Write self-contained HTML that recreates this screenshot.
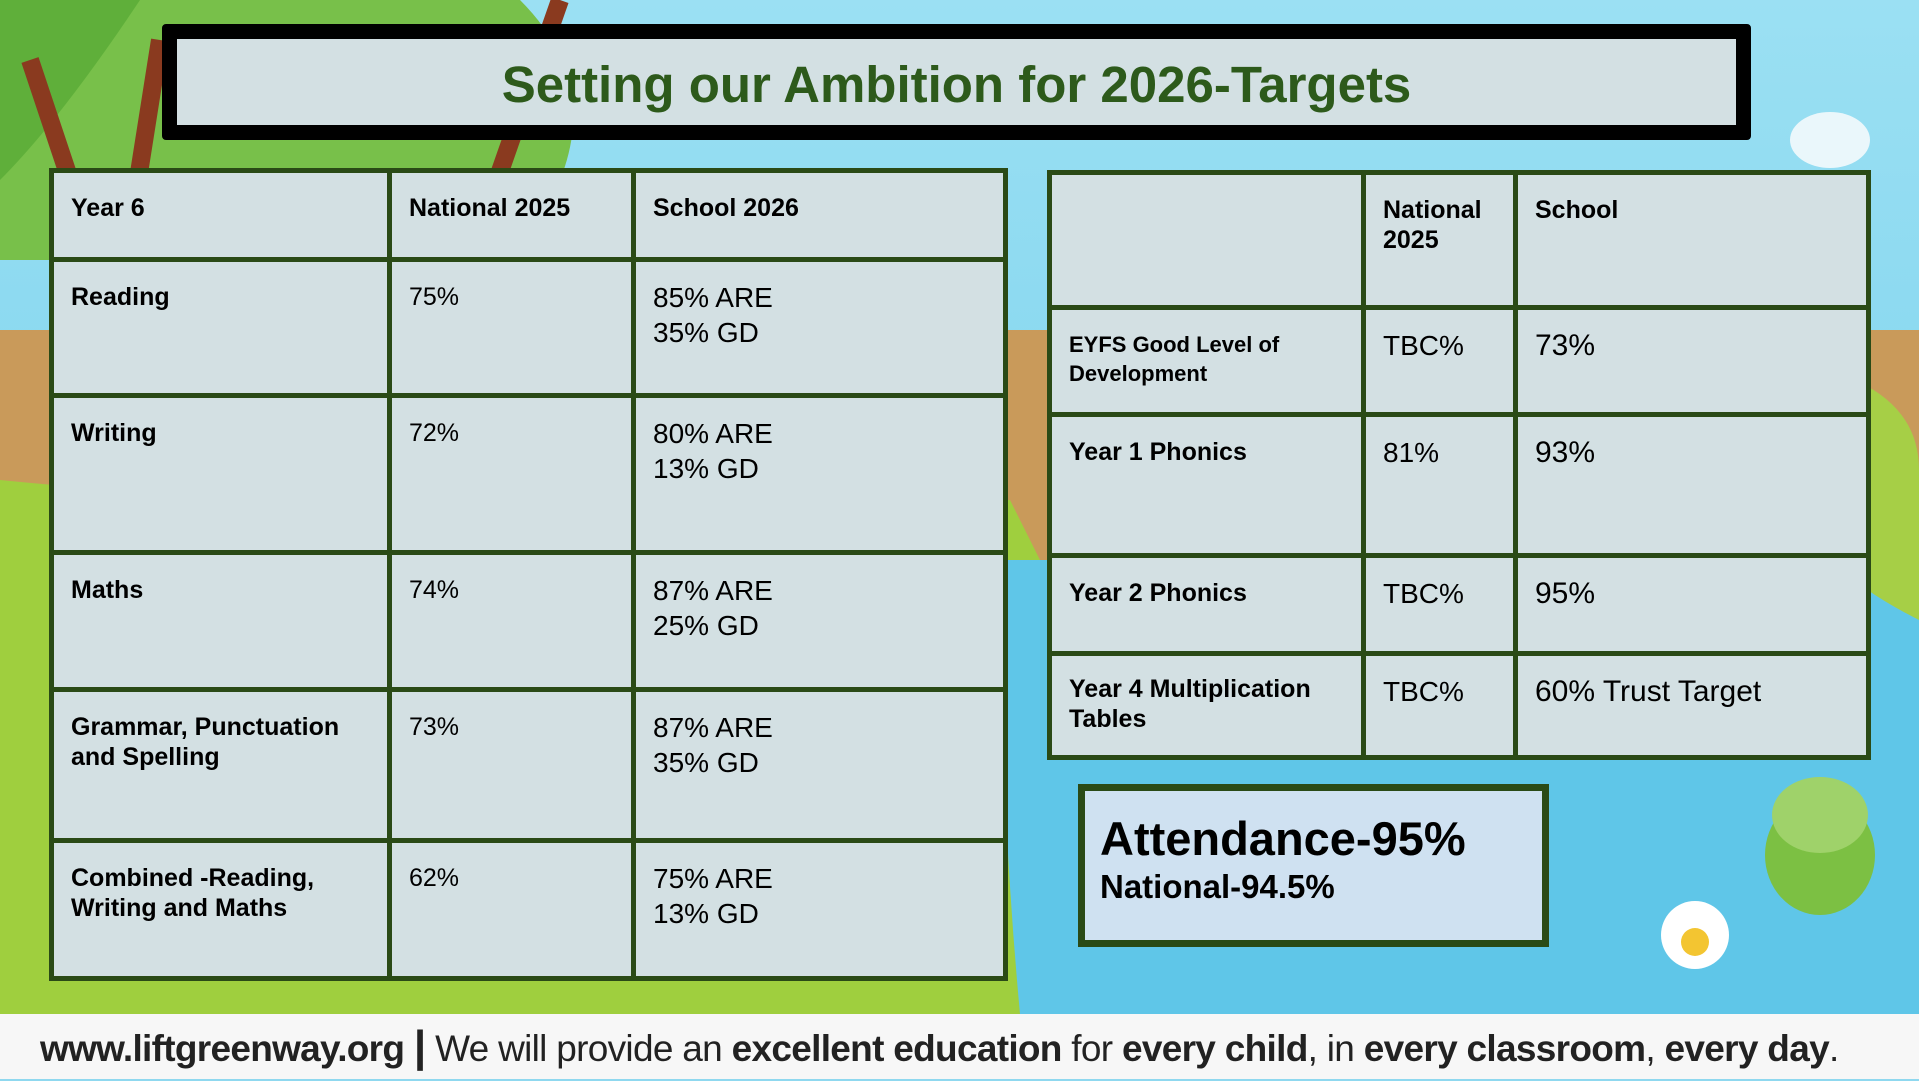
<!DOCTYPE html>
<html><head><meta charset="utf-8">
<style>
*{margin:0;padding:0;box-sizing:border-box}
body{width:1919px;height:1079px;overflow:hidden;position:relative;font-family:"Liberation Sans",sans-serif;background:#8fd8ef}
#bg{position:absolute;left:0;top:0}
.title{position:absolute;left:162px;top:24px;width:1589px;height:116px;background:#d3e0e3;border:15px solid #000;border-radius:4px;display:flex;align-items:center;justify-content:center;font-weight:bold;font-size:51px;color:#2d5a1b;padding-top:4px}
table{position:absolute;border-collapse:collapse;background:#d3e0e3}
td{border:5px solid #2a4a16;vertical-align:top;padding:0 0 0 17px;color:#000}
td.h{font-weight:bold;font-size:25px;line-height:30px;padding-top:20px}
td.v{font-size:28px;line-height:35px;padding-top:18px}
td.n{font-size:25px;line-height:35px;padding-top:18px}
.att{position:absolute;left:1078px;top:784px;width:471px;height:163px;background:#cfe1f1;border:7px solid #2a4a16;padding:22px 0 0 15px}
.att .a{font-weight:bold;font-size:47px;line-height:52px}
.att .b{font-weight:bold;font-size:33px;line-height:44px}
.foot{position:absolute;left:0;top:1014px;width:1919px;height:65px;background:#f7f7f7;font-size:37px;line-height:65px;padding-left:40px;color:#222;white-space:nowrap;letter-spacing:-0.7px}
.foot b{font-weight:bold}
</style></head><body>
<svg id="bg" width="1919" height="1079">
<defs><linearGradient id="sky" x1="0" y1="0" x2="0" y2="1"><stop offset="0" stop-color="#9be0f3"/><stop offset="1" stop-color="#6ccbeb"/></linearGradient></defs>
<rect width="1919" height="1079" fill="url(#sky)"/>
<path d="M0 0H520Q600 80 560 180L520 260L0 260Z" fill="#78c04a"/>
<path d="M0 0H140Q60 120 0 180Z" fill="#5faf3a"/>
<path d="M30 60L90 240M160 40L130 230M560 0L490 200" stroke="#8a3a1f" stroke-width="18"/>
<path d="M0 330H1919V520H1500Q1200 520 1050 600L0 600Z" fill="#c99a5a"/>
<path d="M0 480Q400 520 1010 500L1040 560Q1000 1000 1150 1014H0Z" fill="#9fcf3e"/>
<path d="M1000 560H1919V1014H1020Q1000 800 1000 560Z" fill="#5fc6e8"/>
<path d="M1780 360Q1919 380 1919 470V620Q1800 560 1780 480Z" fill="#a6cf46"/>
<ellipse cx="1830" cy="140" rx="40" ry="28" fill="#eaf7fb"/>
<ellipse cx="1820" cy="855" rx="55" ry="60" fill="#7cc043"/>
<ellipse cx="1820" cy="815" rx="48" ry="38" fill="#9fd26a"/>
<circle cx="1695" cy="935" r="34" fill="#fff"/><circle cx="1695" cy="942" r="14" fill="#f3c531"/>
</svg>
<div class="title">Setting our Ambition for 2026-Targets</div>

<table style="left:49px;top:168px;width:959px;height:808px">
<colgroup><col style="width:338px"><col style="width:244px"><col></colgroup>
<tr style="height:89px"><td class="h">Year 6</td><td class="h">National 2025</td><td class="h">School 2026</td></tr>
<tr style="height:136px"><td class="h">Reading</td><td class="n">75%</td><td class="v">85% ARE<br>35% GD</td></tr>
<tr style="height:157px"><td class="h">Writing</td><td class="n">72%</td><td class="v">80% ARE<br>13% GD</td></tr>
<tr style="height:137px"><td class="h">Maths</td><td class="n">74%</td><td class="v">87% ARE<br>25% GD</td></tr>
<tr style="height:151px"><td class="h">Grammar, Punctuation and Spelling</td><td class="n">73%</td><td class="v">87% ARE<br>35% GD</td></tr>
<tr style="height:138px"><td class="h">Combined -Reading, Writing and Maths</td><td class="n">62%</td><td class="v">75% ARE<br>13% GD</td></tr>
</table>

<table style="left:1047px;top:170px;width:824px;height:585px">
<colgroup><col style="width:314px"><col style="width:152px"><col></colgroup>
<tr style="height:135px"><td class="h"></td><td class="h">National 2025</td><td class="h">School</td></tr>
<tr style="height:107px"><td class="h" style="font-size:22px;line-height:29px">EYFS Good Level of Development</td><td class="v">TBC%</td><td class="v" style="font-size:30px">73%</td></tr>
<tr style="height:141px"><td class="h">Year 1 Phonics</td><td class="v">81%</td><td class="v" style="font-size:30px">93%</td></tr>
<tr style="height:98px"><td class="h">Year 2 Phonics</td><td class="v">TBC%</td><td class="v" style="font-size:30px">95%</td></tr>
<tr style="height:104px"><td class="h" style="padding-top:18px">Year 4 Multiplication Tables</td><td class="v">TBC%</td><td class="v" style="font-size:30px">60% Trust Target</td></tr>
</table>

<div class="att"><div class="a">Attendance-95%</div><div class="b">National-94.5%</div></div>

<div class="foot"><b>www.liftgreenway.org</b> <b style="font-size:44px">|</b> We will provide an <b>excellent education</b> for <b>every child</b>, in <b>every classroom</b>, <b>every day</b>.</div>
</body></html>
